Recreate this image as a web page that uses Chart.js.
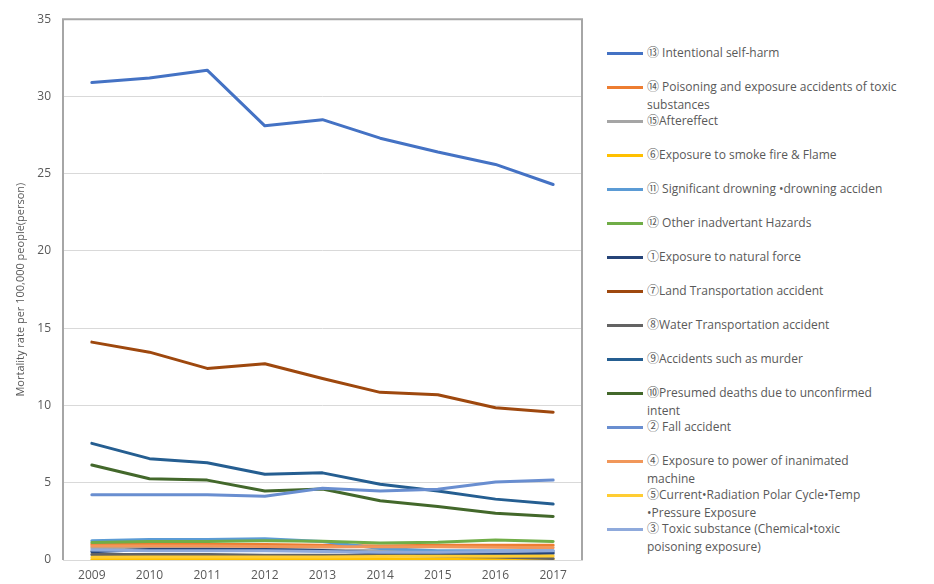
<!DOCTYPE html>
<html>
<head>
<meta charset="utf-8">
<script src="https://cdn.jsdelivr.net/npm/chart.js@4/dist/chart.umd.min.js"></script>
<style>
  body { margin: 0; background: #fff; width: 934px; height: 584px; overflow: hidden; position: relative; font-family: "Open Sans", "Noto Sans CJK KR", sans-serif; }
  #chart-box { position: absolute; left: 0; top: 0; width: 595px; height: 584px; }
  #legend { position: absolute; left: 607px; top: 0; width: 290px; }
  .item { position: absolute; left: 0; width: 290px; height: 18px; }
  .swatch { position: absolute; left: 0; top: 8px; width: 36px; height: 3px; }
  .txt { position: absolute; left: 40px; top: 0; width: 250px; font-size: 12px; line-height: 18px; color: #595959; white-space: normal; }
</style>
</head>
<body>
<div id="chart-box"><canvas id="mortality"></canvas></div>
<div id="legend"></div>
<script>
Chart.defaults.font.family = '"Open Sans", "Noto Sans CJK KR", sans-serif';
Chart.defaults.font.size = 12;
Chart.defaults.color = '#595959';

const years = ['2009', '2010', '2011', '2012', '2013', '2014', '2015', '2016', '2017'];

// legend order
const seriesNames = [
  '⑬ Intentional self-harm',
  '⑭ Poisoning and exposure accidents of toxic substances',
  '⑮Aftereffect',
  '⑥Exposure to smoke fire & Flame',
  '⑪ Significant drowning •drowning acciden',
  '⑫ Other inadvertant Hazards',
  '①Exposure to natural force',
  '⑦Land Transportation accident',
  '⑧Water Transportation accident',
  '⑨Accidents such as murder',
  '⑩Presumed deaths due to unconfirmed intent',
  '② Fall accident',
  '④ Exposure to power of inanimated machine',
  '⑤Current•Radiation Polar Cycle•Temp •Pressure Exposure',
  '③ Toxic substance (Chemical•toxic poisoning exposure)'
];
const seriesColors = ['#4472C4', '#ED7D31', '#A5A5A5', '#FFC000', '#5B9BD5', '#70AD47', '#264478', '#9E480E',
  '#636363', '#255E91', '#43682B', '#698ED0', '#F1975A', '#FFCD33', '#8FAADC'];

const selfHarm     = [30.9, 31.2, 31.7, 28.1, 28.5, 27.3, 26.4, 25.6, 24.3];
const poisoning    = [1.02, 1.0, 1.0, 1.0, 0.95, 0.9, 0.95, 0.95, 0.96];
const aftereffect  = [0.79, 0.75, 0.75, 0.7, 0.65, 0.6, 0.55, 0.5, 0.5];
const fireSmoke    = [0.04, 0.04, 0.04, 0.04, 0.04, 0.04, 0.04, 0.04, 0.05];
const drowning     = [1.24, 1.32, 1.32, 1.38, 1.2, 0.75, 0.6, 0.6, 0.6];
const otherHazards = [1.13, 1.2, 1.2, 1.25, 1.22, 1.1, 1.15, 1.3, 1.2];
const naturalForce = [0.53, 0.68, 0.68, 0.68, 0.62, 0.45, 0.4, 0.38, 0.43];
const landTransport = [14.1, 13.45, 12.4, 12.7, 11.75, 10.85, 10.7, 9.85, 9.57];
const waterTransport = [0.36, 0.35, 0.35, 0.3, 0.3, 0.3, 0.25, 0.2, 0.1];
const murder       = [7.55, 6.56, 6.3, 5.55, 5.64, 4.9, 4.47, 3.94, 3.62];
const presumed     = [6.15, 5.26, 5.17, 4.47, 4.6, 3.84, 3.46, 3.03, 2.82];
const fall         = [4.22, 4.22, 4.22, 4.12, 4.65, 4.47, 4.58, 5.05, 5.17];
const machine      = [0.9, 0.9, 0.9, 0.88, 0.85, 0.85, 0.85, 0.82, 0.79];
const current      = [0.17, 0.2, 0.2, 0.2, 0.2, 0.22, 0.24, 0.25, 0.26];
const toxic        = [0.64, 0.6, 0.6, 0.6, 0.55, 0.5, 0.5, 0.55, 0.6];

const seriesData = [selfHarm, poisoning, aftereffect, fireSmoke, drowning, otherHazards, naturalForce,
  landTransport, waterTransport, murder, presumed, fall, machine, current, toxic];

// grey frame on top / left / right of the plot
const plotFrame = {
  id: 'plotFrame',
  beforeDatasetsDraw(chart) {
    const a = chart.chartArea, ctx = chart.ctx;
    ctx.save();
    ctx.strokeStyle = '#A6A6A6';
    ctx.lineWidth = 2;
    ctx.beginPath();
    ctx.moveTo(a.left, a.bottom);
    ctx.lineTo(a.left, a.top);
    ctx.lineTo(a.right, a.top);
    ctx.lineTo(a.right, a.bottom);
    ctx.stroke();
    ctx.restore();
  }
};

const datasets = seriesNames.map((name, i) => ({
  label: name,
  data: seriesData[i],
  borderColor: seriesColors[i],
  backgroundColor: seriesColors[i],
  borderWidth: 3,
  pointRadius: 0,
  tension: 0,
  borderJoinStyle: 'round',
  borderCapStyle: 'round',
  order: -i
}));

new Chart(document.getElementById('mortality'), {
  type: 'line',
  data: { labels: years, datasets: datasets },
  options: {
    responsive: true,
    maintainAspectRatio: false,
    animation: false,
    layout: { padding: { top: 6, right: 13, bottom: 0, left: 0 } },
    plugins: { legend: { display: false }, tooltip: { enabled: false } },
    scales: {
      x: {
        offset: true,
        grid: { display: false, drawTicks: false },
        border: { color: '#D9D9D9', width: 1 },
        ticks: { padding: 8, color: '#595959', font: { size: 12 } },
        afterFit: s => { s.height = 24; }
      },
      y: {
        min: 0,
        max: 35,
        ticks: { stepSize: 5, padding: 12, color: '#595959', font: { size: 12 } },
        grid: { color: '#D9D9D9', drawTicks: false },
        border: { display: false },
        title: {
          display: true,
          text: 'Mortality rate per 100,000 people(person)',
          color: '#595959',
          font: { size: 11 },
          padding: { top: 14, bottom: 0 }
        },
        afterFit: s => { s.width = 63; }
      }
    }
  },
  plugins: [plotFrame]
});

// legend drawn as html so long names can wrap like the original
const legendBox = document.getElementById('legend');
seriesNames.forEach((name, i) => {
  const item = document.createElement('div');
  item.className = 'item';
  item.style.top = (44 + 34 * i) + 'px';
  const sw = document.createElement('div');
  sw.className = 'swatch';
  sw.style.background = seriesColors[i];
  const t = document.createElement('div');
  t.className = 'txt';
  t.textContent = name;
  item.appendChild(sw);
  item.appendChild(t);
  legendBox.appendChild(item);
});
</script>
</body>
</html>
